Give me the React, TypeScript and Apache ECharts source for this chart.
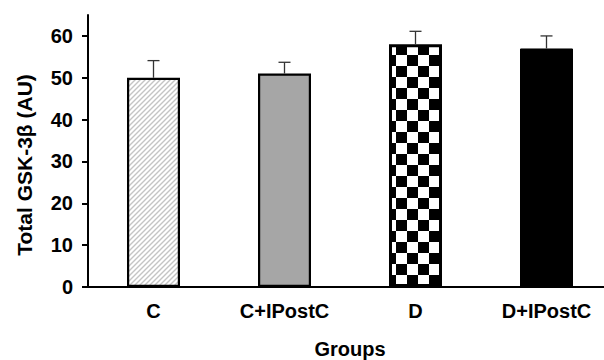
import React, { useEffect, useRef } from 'react';
import * as echarts from 'echarts';

const categories = ['C', 'C+IPostC', 'D', 'D+IPostC'];
const means = [50, 51, 58, 57];
const errors = [4.1, 2.7, 3.1, 3.0];
const yTicks = [0, 10, 20, 30, 40, 50, 60];
const yTitle = 'Total GSK-3β (AU)';
const xTitle = 'Groups';

const FONT = "'Liberation Sans', Arial, sans-serif";

function makeHatch() {
  const s = 5;
  const c = document.createElement('canvas');
  c.width = s;
  c.height = s;
  const ctx = c.getContext('2d')!;
  ctx.fillStyle = '#ffffff';
  ctx.fillRect(0, 0, s, s);
  ctx.strokeStyle = '#c4c4c4';
  ctx.lineWidth = 1.4;
  ctx.beginPath();
  ctx.moveTo(-1, s + 1);
  ctx.lineTo(s + 1, -1);
  ctx.moveTo(-1, 1);
  ctx.lineTo(1, -1);
  ctx.moveTo(s - 1, s + 1);
  ctx.lineTo(s + 1, s - 1);
  ctx.stroke();
  return c;
}

function makeChecker() {
  const q = 11;
  const c = document.createElement('canvas');
  c.width = q * 2;
  c.height = q * 2;
  const ctx = c.getContext('2d')!;
  ctx.fillStyle = '#ffffff';
  ctx.fillRect(0, 0, q * 2, q * 2);
  ctx.fillStyle = '#000000';
  ctx.fillRect(0, 0, q, q);
  ctx.fillRect(q, q, q, q);
  return c;
}

export default function App() {
  const ref = useRef<HTMLDivElement>(null);
  useEffect(() => {
    if (!ref.current) return;
    const chart = echarts.init(ref.current, null, { renderer: 'svg' });
    const fills: any[] = [
      { image: makeHatch(), repeat: 'repeat' },
      '#a6a6a6',
      { image: makeChecker(), repeat: 'repeat' },
      '#000000',
    ];
    const borders = [2.2, 2.2, 3, 1];
    const barData = means.map((v, i) => ({
      value: v,
      itemStyle: {
        color: fills[i],
        borderColor: '#000',
        borderWidth: borders[i],
      },
    }));
    const errData = means.map((v, i) => [i, v, errors[i]]);
    const labelStyle = {
      color: '#000',
      fontFamily: FONT,
      fontWeight: 'bold' as const,
      fontSize: 20,
    };
    chart.setOption({
      animation: false,
      backgroundColor: '#ffffff',
      grid: {
        left: 88,
        right: -8,
        top: 15,
        bottom: 73,
        containLabel: false,
        outerBoundsMode: 'none',
      },
      xAxis: {
        type: 'category',
        data: categories,
        axisLine: { lineStyle: { color: '#000', width: 2 } },
        axisTick: { show: false },
        axisLabel: { ...labelStyle, margin: 14 },
        name: xTitle,
        nameLocation: 'middle',
        nameGap: 52,
        nameTextStyle: labelStyle,
      },
      yAxis: {
        type: 'value',
        min: 0,
        max: 65,
        interval: 10,
        splitLine: { show: false },
        axisLine: { show: true, lineStyle: { color: '#000', width: 2 } },
        axisTick: {
          show: true,
          length: 6,
          lineStyle: { color: '#000', width: 2 },
          customValues: yTicks,
        },
        axisLabel: { ...labelStyle, margin: 15, customValues: yTicks },
      },
      graphic: [
        {
          type: 'text',
          x: 24,
          y: 165,
          rotation: Math.PI / 2,
          style: {
            text: yTitle,
            font: `bold 21px ${FONT}`,
            fill: '#000',
            textAlign: 'center',
            textVerticalAlign: 'middle',
            align: 'center',
            verticalAlign: 'middle',
          },
        },
      ],
      series: [
        {
          type: 'bar',
          data: barData,
          barWidth: 53,
          z: 2,
        },
        {
          type: 'custom',
          data: errData,
          z: 3,
          renderItem: (params: any, api: any) => {
            const x = api.value(0);
            const v = api.value(1);
            const e = api.value(2);
            const p0 = api.coord([x, v]);
            const p1 = api.coord([x, v + e]);
            const st = { stroke: '#333333', lineWidth: 1.3 };
            return {
              type: 'group',
              children: [
                { type: 'line', shape: { x1: p0[0], y1: p0[1], x2: p1[0], y2: p1[1] }, style: st },
                { type: 'line', shape: { x1: p1[0] - 6, y1: p1[1], x2: p1[0] + 6, y2: p1[1] }, style: st },
              ],
            };
          },
        },
      ],
    });
    return () => chart.dispose();
  }, []);
  return (
    <div
      ref={ref}
      style={{ position: 'fixed', left: 0, top: 0, width: 604, height: 360, background: '#fff' }}
    />
  );
}
